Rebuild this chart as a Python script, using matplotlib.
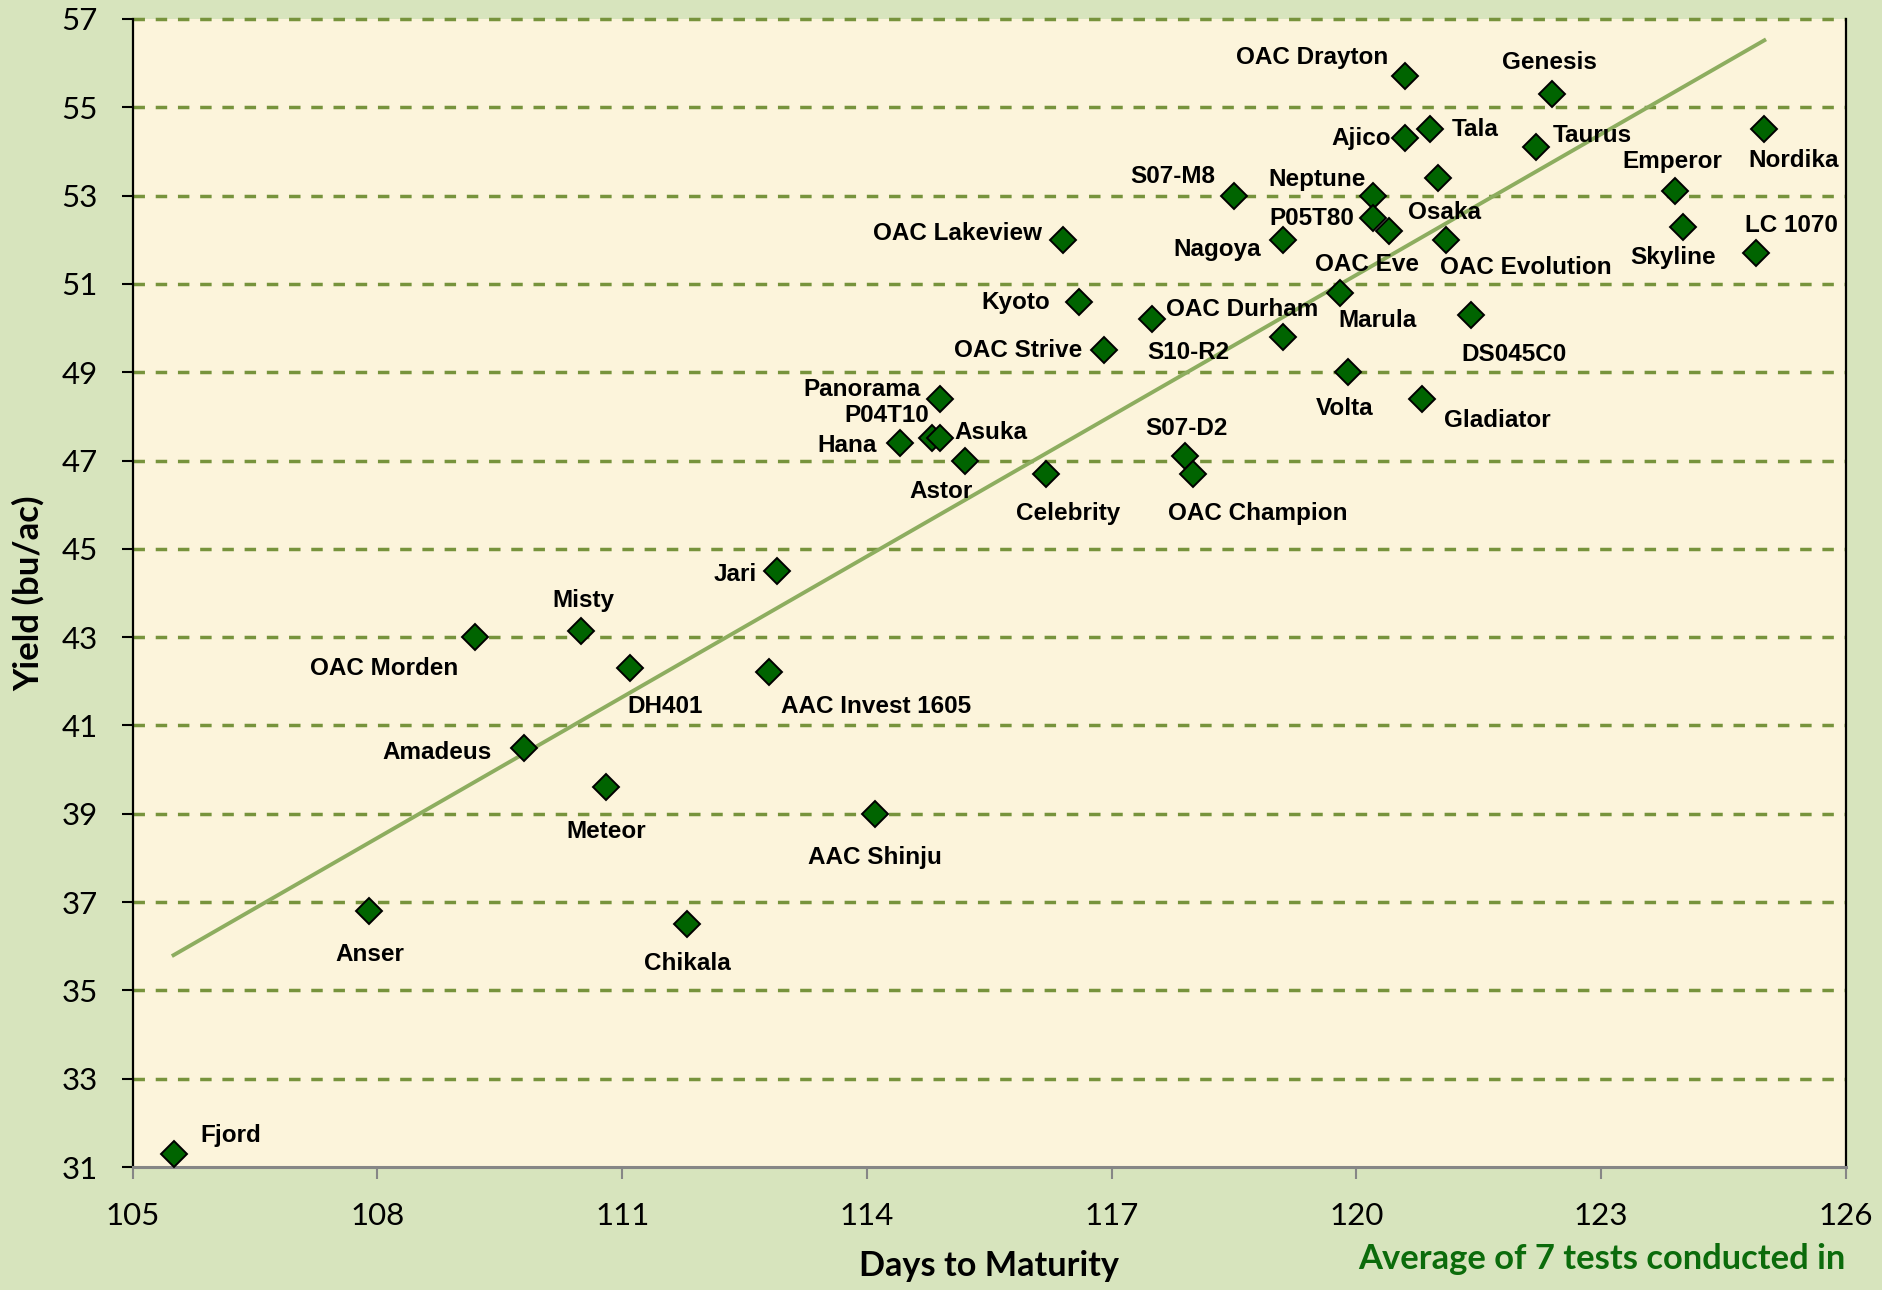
## Import libraries
import numpy as np
import matplotlib
matplotlib.use("Agg")
import matplotlib.pyplot as plt

## Variety data (days to maturity, yield bu/ac)
varieties = ["Fjord", "Anser", "OAC Morden", "Amadeus", "Misty", "Meteor", "DH401",
             "Chikala", "AAC Invest 1605", "Jari", "AAC Shinju", "Hana", "P04T10",
             "Asuka", "Panorama", "Astor", "Celebrity", "OAC Lakeview", "Kyoto",
             "OAC Strive", "OAC Durham", "S07-D2", "OAC Champion", "S07-M8", "Nagoya",
             "S10-R2", "Neptune", "P05T80", "OAC Eve", "Marula", "Volta", "Osaka",
             "OAC Evolution", "Gladiator", "DS045C0", "Ajico", "Tala", "OAC Drayton",
             "Genesis", "Taurus", "Emperor", "Skyline", "Nordika", "LC 1070"]
days = [105.5, 107.9, 109.2, 109.8, 110.5, 110.8, 111.1,
        111.8, 112.8, 112.9, 114.1, 114.4, 114.8,
        114.9, 114.9, 115.2, 116.2, 116.4, 116.6,
        116.9, 117.5, 117.9, 118.0, 118.5, 119.1,
        119.1, 120.2, 120.2, 120.4, 119.8, 119.9, 121.0,
        121.1, 120.8, 121.4, 120.6, 120.9, 120.6,
        122.4, 122.2, 123.9, 124.0, 125.0, 124.9]
yields = [31.3, 36.8, 43.0, 40.5, 43.15, 39.6, 42.3,
          36.5, 42.2, 44.5, 39.0, 47.4, 47.5,
          47.5, 48.4, 47.0, 46.7, 52.0, 50.6,
          49.5, 50.2, 47.1, 46.7, 53.0, 52.0,
          49.8, 53.0, 52.5, 52.2, 50.8, 49.0, 53.4,
          52.0, 48.4, 50.3, 54.3, 54.5, 55.7,
          55.3, 54.1, 53.1, 52.3, 54.5, 51.7]

x_ticks = [105, 108, 111, 114, 117, 120, 123, 126]
y_ticks = list(range(31, 58, 2))

## label offsets from each point (pixels of the 1568 px wide view, y down)
label_offsets = [(48, -15), (0, 36), (-76, 26), (-73, 4), (2, -25), (0, 37), (29, 32),
                 (0, 33), (89, 28), (-35, 3), (0, 36), (-44, 2), (-38, -19),
                 (42, -5), (-65, -8), (-20, 26), (18, 33), (-88, -5), (-53, 1),
                 (-71, 0), (75, -8), (1, -23), (54, 33), (-51, -16), (-55, 8),
                 (-79, 13), (-46, -13), (-51, 1), (-18, 28), (31, 23), (-3, 30), (5, 29),
                 (66, 23), (63, 18), (36, 33), (-37, 0), (38, 0), (-78, -16),
                 (-2, -26), (47, -10), (-2, -25), (-8, 26), (24, 26), (29, -23)]
px_scale = 1883 / 1568

## Colours
outer_bg = "#D7E4BD"
plot_bg = "#FCF4DB"
grid_col = "#77933C"
trend_col = "#8DAD5F"
marker_col = "#006400"

fig = plt.figure(figsize=(18.83, 12.9), dpi=100, facecolor=outer_bg)
ax = fig.add_axes([0.0705, 0.0953, 0.9098, 0.89])
ax.set_facecolor(plot_bg)
ax.set_xlim(105, 126)
ax.set_ylim(31, 57)

## dashed gridlines (top one forms the upper border)
for yv in y_ticks[1:]:
    ax.axhline(yv, color=grid_col, lw=2.5, dashes=(3.3, 3.1), clip_on=False, zorder=1)

## Linear trendline over the data range
coef = np.polyfit(days, yields, 1)
xt = np.array([min(days), max(days)])
ax.plot(xt, np.polyval(coef, xt), color=trend_col, lw=2.8, zorder=2)

## Points
ax.plot(days, yields, linestyle="none", marker="D", markersize=13.5,
        markerfacecolor=marker_col, markeredgecolor="black", markeredgewidth=1.4,
        zorder=4, clip_on=False)

## Data labels
for name, xv, yv, (dx, dy) in zip(varieties, days, yields, label_offsets):
    ax.annotate(name, (xv, yv), xytext=(dx * px_scale, -dy * px_scale),
                textcoords="offset pixels", ha="center", va="center",
                fontsize=17.5, fontweight="bold", family="Liberation Sans",
                color="black", zorder=5)

## Spines and ticks
ax.spines["top"].set_visible(False)
ax.spines["left"].set_color("black")
ax.spines["left"].set_linewidth(1.6)
ax.spines["right"].set_color("black")
ax.spines["right"].set_linewidth(1.6)
ax.spines["bottom"].set_color("#868686")
ax.spines["bottom"].set_linewidth(2.2)

ax.set_xticks(x_ticks)
ax.set_yticks(y_ticks)
ax.tick_params(axis="y", direction="out", length=8, width=1.5, color="black",
               pad=17, labelsize=22.5)
ax.tick_params(axis="x", direction="out", length=8.5, width=1.5, color="#868686",
               pad=17, labelsize=22.5)
for lab in ax.get_xticklabels() + ax.get_yticklabels():
    lab.set_family("Lato")

ax.set_xlabel("Days to Maturity", fontsize=24.7, fontweight="bold", family="Lato",
              labelpad=14)
ax.set_ylabel("Yield (bu/ac)", fontsize=25, fontweight="bold", family="Lato",
              labelpad=12)

fig.text(0.9803, 0.012, "Average of 7 tests conducted in", ha="right", va="bottom",
         fontsize=24.8, fontweight="bold", family="Lato", color="#0B6B0B")

fig.savefig("out.png", dpi=100, facecolor=outer_bg)
